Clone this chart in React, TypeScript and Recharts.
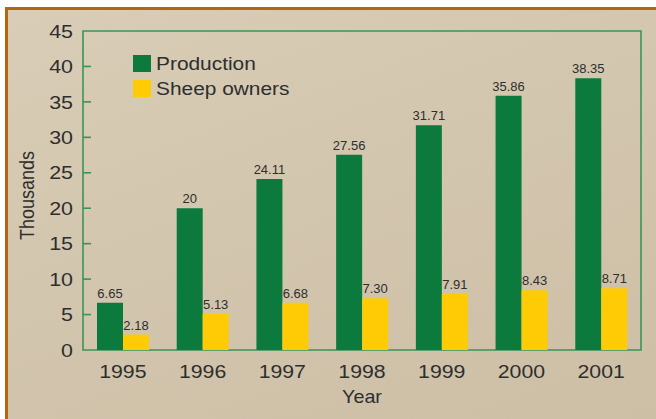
import React from 'react';
import { BarChart, Bar, XAxis, YAxis, ReferenceArea, LabelList, Legend, Label } from 'recharts';

const years = ['1995', '1996', '1997', '1998', '1999', '2000', '2001'];
const production = [6.65, 20, 24.11, 27.56, 31.71, 35.86, 38.35];
const sheepOwners = [2.18, 5.13, 6.68, 7.3, 7.91, 8.43, 8.71];
const yTicks = [0, 5, 10, 15, 20, 25, 30, 35, 40, 45];
const seriesNames = { production: 'Production', sheep: 'Sheep owners' };

const data = years.map((year, i) => ({ year, production: production[i], sheep: sheepOwners[i] }));

const GREEN = '#0b7a3c';
const YELLOW = '#ffcb05';
const AXIS = '#3a9456';
const TEXT = '#2e2e2e';
const FONT = "'Liberation Sans', Arial, sans-serif";

const YTick = (props: any) => {
  const { x, y, payload } = props;
  const v = payload.value;
  const showLine = v > 0 && v < 45;
  return (
    <g>
      <g transform={`translate(${x},${y}) scale(1.16,1)`}>
        <text x={0} y={0} dy="0.36em" textAnchor="end" fontSize={18.5} fontFamily={FONT} fill={TEXT}>
          {v}
        </text>
      </g>
      {showLine && <line x1={x + 10} x2={x + 18} y1={y} y2={y} stroke={AXIS} strokeWidth={1.6} />}
    </g>
  );
};

const XTick = (props: any) => {
  const { x, y, payload } = props;
  return (
    <g transform={`translate(${x},${y}) scale(1.12,1)`}>
      <text x={0} y={0} dy="0.71em" textAnchor="middle" fontSize={19} fontFamily={FONT} fill={TEXT}>
        {payload.value}
      </text>
    </g>
  );
};

const YLabel = (props: any) => {
  const vb = props.viewBox || { x: 0, y: 0, width: 0, height: 0 };
  const cx = vb.x + 34;
  const cy = vb.y + vb.height / 2 + 5;
  return (
    <g transform={`translate(${cx},${cy}) rotate(-90) scale(1,1.16)`}>
      <text x={0} y={0} textAnchor="middle" fontSize={18} fontFamily={FONT} fill={TEXT}>
        Thousands
      </text>
    </g>
  );
};

const XLabel = (props: any) => {
  const vb = props.viewBox || { x: 0, y: 0, width: 0, height: 0 };
  const cx = vb.x + vb.width / 2;
  const cy = vb.y + vb.height - 16;
  return (
    <g transform={`translate(${cx},${cy}) scale(1.04,1)`}>
      <text x={0} y={0} textAnchor="middle" fontSize={19} fontFamily={FONT} fill={TEXT}>
        Year
      </text>
    </g>
  );
};

const LegendContent = (props: any) => {
  const payload = props.payload || [];
  return (
    <div>
      {payload.map((entry: any) => (
        <div key={entry.value} style={{ display: 'flex', alignItems: 'center', height: 25 }}>
          <span style={{ display: 'inline-block', width: 18, height: 17, background: entry.color, marginRight: 5 }} />
          <span
            style={{
              display: 'inline-block',
              fontSize: 18,
              fontFamily: FONT,
              color: TEXT,
              transform: 'scaleX(1.16)',
              transformOrigin: 'left center',
              whiteSpace: 'nowrap',
              lineHeight: '18px',
            }}
          >
            {entry.value}
          </span>
        </div>
      ))}
    </div>
  );
};

export default function App() {
  return (
    <div style={{ position: 'absolute', left: 0, top: 0, width: 656, height: 419, background: '#ffffff', overflow: 'hidden' }}>
      <div
        style={{
          position: 'absolute',
          left: 5,
          top: 7,
          width: 651,
          height: 412,
          boxSizing: 'border-box',
          borderTop: '3px solid #b4660f',
          borderLeft: '3px solid #b4660f',
          background: 'linear-gradient(160deg, #d9cdb7 0%, #d3c6ae 45%, #cdbfa6 100%)',
        }}
      />
      <div style={{ position: 'absolute', left: 0, top: 0 }}>
        <BarChart
          width={656}
          height={419}
          data={data}
          margin={{ top: 31, right: 15, bottom: 0, left: 0 }}
          barSize={26}
          barGap={0}
        >
          <XAxis
            dataKey="year"
            height={69}
            axisLine={false}
            tickLine={false}
            tickSize={0}
            tickMargin={15}
            interval={0}
            tick={<XTick />}
          >
            <Label content={<XLabel />} />
          </XAxis>
          <YAxis
            type="number"
            domain={[0, 45]}
            ticks={yTicks}
            interval={0}
            width={83}
            axisLine={false}
            tickLine={false}
            tickSize={0}
            tickMargin={10}
            tick={<YTick />}
          >
            <Label content={<YLabel />} />
          </YAxis>
          <ReferenceArea y1={0} y2={45} fill="none" stroke={AXIS} strokeWidth={1.6} ifOverflow="visible" />
          <Legend
            layout="vertical"
            align="center"
            verticalAlign="middle"
            wrapperStyle={{ left: 133, top: 51, width: 'auto' }}
            content={<LegendContent />}
          />
          <Bar dataKey="production" name={seriesNames.production} fill={GREEN} isAnimationActive={false}>
            <LabelList
              dataKey="production"
              position="top"
              offset={5}
              fontSize={13}
              fontFamily={FONT}
              fill={TEXT}
              formatter={(v: any) => String(v)}
            />
          </Bar>
          <Bar dataKey="sheep" name={seriesNames.sheep} fill={YELLOW} isAnimationActive={false}>
            <LabelList
              dataKey="sheep"
              position="top"
              offset={5}
              fontSize={13}
              fontFamily={FONT}
              fill={TEXT}
              formatter={(v: any) => Number(v).toFixed(2)}
            />
          </Bar>
        </BarChart>
      </div>
    </div>
  );
}
